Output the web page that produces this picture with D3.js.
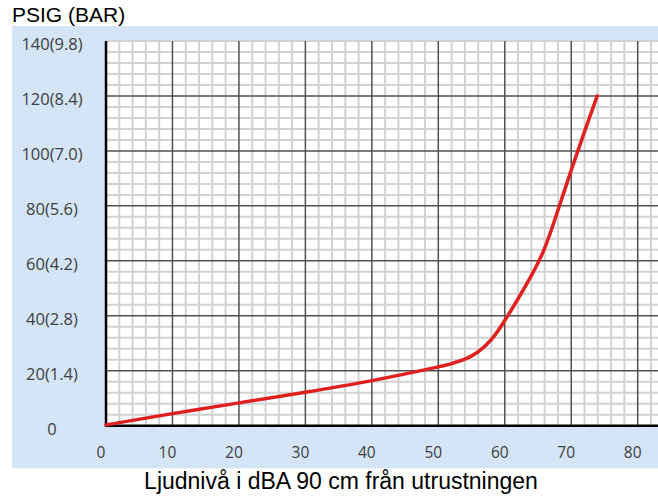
<!DOCTYPE html>
<html>
<head>
<meta charset="utf-8">
<script src="https://cdn.jsdelivr.net/npm/d3@7"></script>
<style>
  html, body { margin: 0; padding: 0; background: #fff; overflow: hidden; }
  svg { display: block; }
</style>
</head>
<body>
<div id="chart"></div>
<script>
// data
const dba = [0, 10, 20, 30, 40, 50, 52, 54, 56, 58, 60, 62, 64, 66, 68, 70, 72, 73.9];
const psig = [0.3, 4.4, 8.3, 12.2, 16.4, 21.4, 22.6, 24.2, 26.9, 31.4, 38.3, 46.2, 54.6, 64.6, 78.4, 93, 107, 120];
const xTicks = [0, 10, 20, 30, 40, 50, 60, 70, 80];
const yTicks = [0, 20, 40, 60, 80, 100, 120, 140];
const yTickLabels = ['0', '20(1.4)', '40(2.8)', '60(4.2)', '80(5.6)', '100(7.0)', '120(8.4)', '140(9.8)'];
const yTitle = 'PSIG (BAR)';
const xTitle = 'Ljudnivå i dBA 90 cm från utrustningen';

const width = 658;
const height = 501;
const margin = { left: 106, top: 41, bottom: 75.3 };

const svg = d3.select('#chart').append('svg')
  .attr('width', width)
  .attr('height', height);

const x = d3.scaleLinear().domain([0, 80]).range([margin.left, 637.7]);
const y = d3.scaleLinear().domain([0, 140]).range([height - margin.bottom, margin.top]);

// blue panel
svg.append('rect')
  .attr('x', 12).attr('y', 26)
  .attr('width', width - 12).attr('height', 468.3 - 26)
  .attr('fill', '#d3e5f7');

// plot area
svg.append('rect')
  .attr('x', x(0)).attr('y', y(140))
  .attr('width', width - x(0)).attr('height', y(0) - y(140))
  .attr('fill', '#fff');

const grid = svg.append('g').attr('class', 'grid');
const xMax = x.invert(width + 2);
const minorX = d3.range(2, xMax, 2).filter(v => v % 10 !== 0);
const majorX = d3.range(10, xMax, 10);
const minorY = d3.range(4, 141, 4).filter(v => v % 20 !== 0);
const majorY = d3.range(20, 121, 20);

grid.selectAll('line.minor-x').data(minorX).enter().append('line')
  .attr('x1', d => x(d)).attr('x2', d => x(d))
  .attr('y1', y(140)).attr('y2', y(0))
  .attr('stroke', '#d2d2d2').attr('stroke-width', 2);

grid.selectAll('line.minor-y').data(minorY.concat([140])).enter().append('line')
  .attr('x1', x(0)).attr('x2', width)
  .attr('y1', d => y(d)).attr('y2', d => y(d))
  .attr('stroke', '#d2d2d2').attr('stroke-width', 2);

grid.selectAll('line.major-x').data(majorX).enter().append('line')
  .attr('x1', d => x(d)).attr('x2', d => x(d))
  .attr('y1', y(140)).attr('y2', y(0))
  .attr('stroke', '#505050').attr('stroke-width', 1.5);

grid.selectAll('line.major-y').data(majorY).enter().append('line')
  .attr('x1', x(0)).attr('x2', width)
  .attr('y1', d => y(d)).attr('y2', d => y(d))
  .attr('stroke', '#505050').attr('stroke-width', 1.5);

// axes lines
svg.append('line')
  .attr('x1', x(0)).attr('x2', x(0))
  .attr('y1', y(140)).attr('y2', y(0) + 1)
  .attr('stroke', '#000').attr('stroke-width', 2.5);
svg.append('line')
  .attr('x1', x(0) - 1).attr('x2', width)
  .attr('y1', y(0)).attr('y2', y(0))
  .attr('stroke', '#000').attr('stroke-width', 2.5);

// curve
const line = d3.line()
  .x((d, i) => x(dba[i]))
  .y(d => y(d))
  .curve(d3.curveNatural);

svg.append('path')
  .datum(psig)
  .attr('d', line)
  .attr('fill', 'none')
  .attr('stroke', '#e0201e')
  .attr('stroke-width', 3.5)
  .attr('stroke-linecap', 'round');

// tick labels
svg.append('g').selectAll('text').data(xTicks).enter().append('text')
  .attr('x', d => x(d) - 5)
  .attr('y', 458)
  .attr('text-anchor', 'middle')
  .attr('font-family', 'Open Sans')
  .attr('font-size', '15.5px')
  .attr('fill', '#404040')
  .text(d => d);

svg.append('g').selectAll('text').data(yTicks).enter().append('text')
  .attr('x', 52)
  .attr('y', d => y(d) + 9)
  .attr('text-anchor', 'middle')
  .attr('font-family', 'Open Sans')
  .attr('font-size', '16.5px')
  .attr('fill', '#404040')
  .text((d, i) => yTickLabels[i]);

// titles
svg.append('text')
  .attr('x', 12).attr('y', 22)
  .attr('font-family', 'Liberation Sans')
  .attr('font-size', '21px')
  .attr('fill', '#000')
  .text(yTitle);

svg.append('text')
  .attr('x', 341).attr('y', 489)
  .attr('text-anchor', 'middle')
  .attr('font-family', 'Liberation Sans')
  .attr('font-size', '23px')
  .attr('fill', '#000')
  .text(xTitle);
</script>
</body>
</html>
